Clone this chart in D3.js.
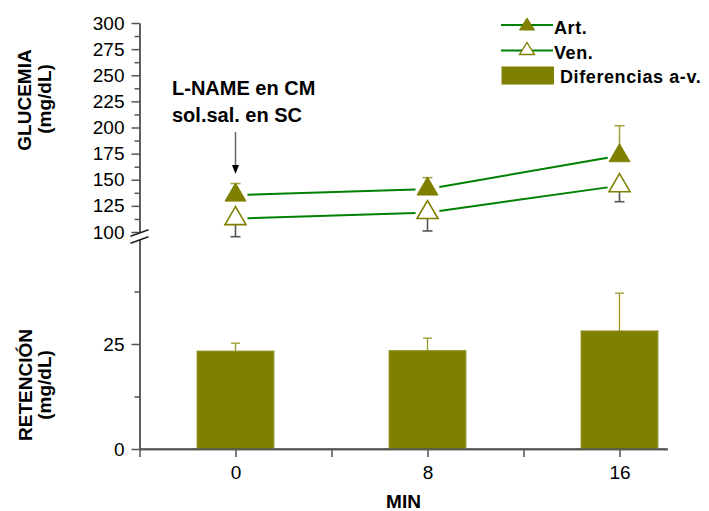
<!DOCTYPE html>
<html>
<head>
<meta charset="utf-8">
<script src="https://cdn.jsdelivr.net/npm/d3@7/dist/d3.min.js"></script>
<style>
  html, body { margin: 0; padding: 0; background: #fff; }
  svg { display: block; font-family: "Liberation Sans", Arial, sans-serif; }
</style>
</head>
<body>
<svg id="chart" width="709" height="511"></svg>
<script>
// Time points (min)
const minutes = [0, 8, 16];
// Glycaemia, arterial (mean and +SEM)
const artMean = [135.3, 141.1, 173.0];
const artErr = [11.1, 10.9, 28.7];
// Glycaemia, venous (mean and -SEM)
const venMean = [112.8, 118.6, 144.3];
const venErr = [17.3, 17.6, 15.3];
// Arterio-venous difference (retention)
const diffMean = [23.3, 23.4, 28.1];
const diffErr = [1.9, 3.0, 9.0];

// Axis ticks
const xMajorTicks = [0, 8, 16];
const xMinorTicks = [-4, 4, 12];
const topMajorTicks = [100, 125, 150, 175, 200, 225, 250, 275, 300];
const topMinorTicks = [112.5, 137.5, 162.5, 187.5, 212.5, 237.5, 262.5, 287.5];
const botMajorTicks = [0, 25];
const botMinorTicks = [12.5, 37.5];

const svg = d3.select("#chart");
const OLIVE = "#808000";
const GREEN = "#008000";
const AXIS = "#555";

const x = d3.scaleLinear().domain([-4, 18]).range([139.5, 667.5]);
const yTop = d3.scaleLinear().domain([100, 300]).range([232, 23]);
const yBot = d3.scaleLinear().domain([0, 50]).range([449, 239]);

function styleAxis(g) {
  g.selectAll("path, line").attr("stroke", AXIS).attr("stroke-width", 1.5);
  g.selectAll("text").attr("fill", "#000").style("font-size", "19px");
}

// --- Y axes (upper: glycaemia, lower: retention) ---
const axX = x.range()[0];
svg.append("g").attr("transform", `translate(${axX},0)`)
  .call(d3.axisLeft(yTop).tickValues(topMajorTicks).tickSize(8).tickSizeOuter(0).tickPadding(7))
  .call(styleAxis);
svg.append("g").attr("transform", `translate(${axX},0)`)
  .call(d3.axisLeft(yTop).tickValues(topMinorTicks).tickSize(5).tickSizeOuter(0).tickFormat(""))
  .call(styleAxis);
svg.append("g").attr("transform", `translate(${axX},0)`)
  .call(d3.axisLeft(yBot).tickValues(botMajorTicks).tickSize(8).tickSizeOuter(0).tickPadding(7))
  .call(styleAxis);
svg.append("g").attr("transform", `translate(${axX},0)`)
  .call(d3.axisLeft(yBot).tickValues(botMinorTicks).tickSize(5).tickSizeOuter(0).tickFormat(""))
  .call(styleAxis);

// Axis break marks
const breakYs = [yTop.range()[0] + 1, yBot.range()[1] + 1];
breakYs.forEach(by => {
  svg.append("line")
    .attr("x1", axX - 9).attr("y1", by + 3.2)
    .attr("x2", axX + 9).attr("y2", by - 3.2)
    .attr("stroke", "#222").attr("stroke-width", 1.5);
});

// --- X axis ---
svg.append("g").attr("transform", `translate(0,${yBot(0)})`)
  .call(d3.axisBottom(x).tickValues(xMajorTicks).tickSize(8).tickSizeOuter(0).tickPadding(9))
  .call(styleAxis);
svg.append("g").attr("transform", `translate(0,${yBot(0)})`)
  .call(d3.axisBottom(x).tickValues(xMinorTicks).tickSize(8).tickSizeOuter(0).tickFormat(""))
  .call(styleAxis);

// --- Bars: a-v difference ---
const barW = x(3.2) - x(0);
const bars = svg.append("g");
minutes.forEach((m, i) => {
  const cx = x(m);
  bars.append("line")
    .attr("x1", cx).attr("x2", cx)
    .attr("y1", yBot(diffMean[i])).attr("y2", yBot(diffMean[i] + diffErr[i]))
    .attr("stroke", "#9a9a2a").attr("stroke-width", 1.3);
  bars.append("line")
    .attr("x1", cx - 4.5).attr("x2", cx + 4.5)
    .attr("y1", yBot(diffMean[i] + diffErr[i])).attr("y2", yBot(diffMean[i] + diffErr[i]))
    .attr("stroke", "#9a9a2a").attr("stroke-width", 1.3);
  bars.append("rect")
    .attr("x", cx - barW / 2).attr("width", barW)
    .attr("y", yBot(diffMean[i])).attr("height", yBot(0) - yBot(diffMean[i]))
    .attr("fill", OLIVE).attr("stroke", "#8c8c1c").attr("stroke-width", 1);
});
// redraw the baseline over the bars
svg.append("line")
  .attr("x1", x.range()[0]).attr("x2", x.range()[1])
  .attr("y1", yBot(0)).attr("y2", yBot(0))
  .attr("stroke", AXIS).attr("stroke-width", 1.5);

// --- Glycaemia lines ---
const triPath = "M0,-12L10.5,6L-10.5,6Z";
function drawSeries(means, errs, dir, filled, errColor) {
  const pts = minutes.map((m, i) => [x(m), yTop(means[i])]);
  const g = svg.append("g");
  // connecting segments, stopped short of the markers
  const gap = 12;
  for (let i = 0; i < pts.length - 1; i++) {
    const [x1, y1] = pts[i], [x2, y2] = pts[i + 1];
    const len = Math.hypot(x2 - x1, y2 - y1);
    const ux = (x2 - x1) / len, uy = (y2 - y1) / len;
    g.append("line")
      .attr("x1", x1 + ux * gap).attr("y1", y1 + uy * gap)
      .attr("x2", x2 - ux * gap).attr("y2", y2 - uy * gap)
      .attr("stroke", GREEN).attr("stroke-width", 2);
  }
  // error bars
  minutes.forEach((m, i) => {
    const cx = x(m);
    const yEnd = yTop(means[i] + dir * errs[i]);
    g.append("line")
      .attr("x1", cx).attr("x2", cx)
      .attr("y1", yTop(means[i])).attr("y2", yEnd)
      .attr("stroke", errColor).attr("stroke-width", 1.6);
    g.append("line")
      .attr("x1", cx - 5).attr("x2", cx + 5)
      .attr("y1", yEnd).attr("y2", yEnd)
      .attr("stroke", errColor).attr("stroke-width", 1.6);
  });
  // markers
  g.selectAll("path.mk").data(pts).join("path")
    .attr("class", "mk")
    .attr("d", triPath)
    .attr("transform", d => `translate(${d[0]},${d[1]})`)
    .attr("fill", filled ? OLIVE : "#fff")
    .attr("stroke", OLIVE)
    .attr("stroke-width", filled ? 1 : 1.6);
}
drawSeries(venMean, venErr, -1, false, "#555");
drawSeries(artMean, artErr, 1, true, "#a3a34a");

// --- Annotation ---
const ann = svg.append("g").style("font-weight", "bold").style("font-size", "20px");
ann.append("text").attr("x", 172).attr("y", 95).text("L-NAME en CM");
ann.append("text").attr("x", 172).attr("y", 122).text("sol.sal. en SC");
const ax0 = x(0);
svg.append("line")
  .attr("x1", ax0).attr("x2", ax0).attr("y1", 132).attr("y2", 167)
  .attr("stroke", "#666").attr("stroke-width", 1.5);
svg.append("path")
  .attr("d", `M${ax0 - 3.5},165L${ax0 + 3.5},165L${ax0},174Z`)
  .attr("fill", "#000");

// --- Legend ---
const lg = svg.append("g").style("font-weight", "bold").style("font-size", "18px")
  .style("letter-spacing", "0.6px");
const lx1 = 501, lx2 = 553, lmx = 527;
lg.append("line").attr("x1", lx1).attr("x2", lx2).attr("y1", 25).attr("y2", 25)
  .attr("stroke", GREEN).attr("stroke-width", 2);
lg.append("path").attr("d", "M0,-8L7.5,4L-7.5,4Z").attr("transform", `translate(${lmx},26)`)
  .attr("fill", OLIVE).attr("stroke", OLIVE).attr("stroke-width", 1);
lg.append("text").attr("x", 554).attr("y", 34).text("Art.");
lg.append("line").attr("x1", lx1).attr("x2", lx2).attr("y1", 50.5).attr("y2", 50.5)
  .attr("stroke", GREEN).attr("stroke-width", 2);
lg.append("path").attr("d", "M0,-8L7.5,4L-7.5,4Z").attr("transform", `translate(${lmx},50.5)`)
  .attr("fill", "#fff").attr("stroke", OLIVE).attr("stroke-width", 1.4);
lg.append("text").attr("x", 554).attr("y", 58.5).text("Ven.");
lg.append("rect").attr("x", 501.5).attr("y", 66.5).attr("width", 52.5).attr("height", 18)
  .attr("fill", OLIVE);
lg.append("text").attr("x", 560).attr("y", 82.5).text("Diferencias a-v.");

// --- Axis titles ---
const titles = svg.append("g").style("font-weight", "bold").style("font-size", "19px")
  .attr("text-anchor", "middle");
titles.append("text").attr("transform", "translate(31,100) rotate(-90)").text("GLUCEMIA");
titles.append("text").attr("transform", "translate(51,99) rotate(-90)").text("(mg/dL)");
titles.append("text").attr("transform", "translate(32,385) rotate(-90)").text("RETENCIÓN");
titles.append("text").attr("transform", "translate(51,385) rotate(-90)").text("(mg/dL)");
titles.append("text").attr("x", (x.range()[0] + x.range()[1]) / 2).attr("y", 508).text("MIN");
</script>
</body>
</html>
